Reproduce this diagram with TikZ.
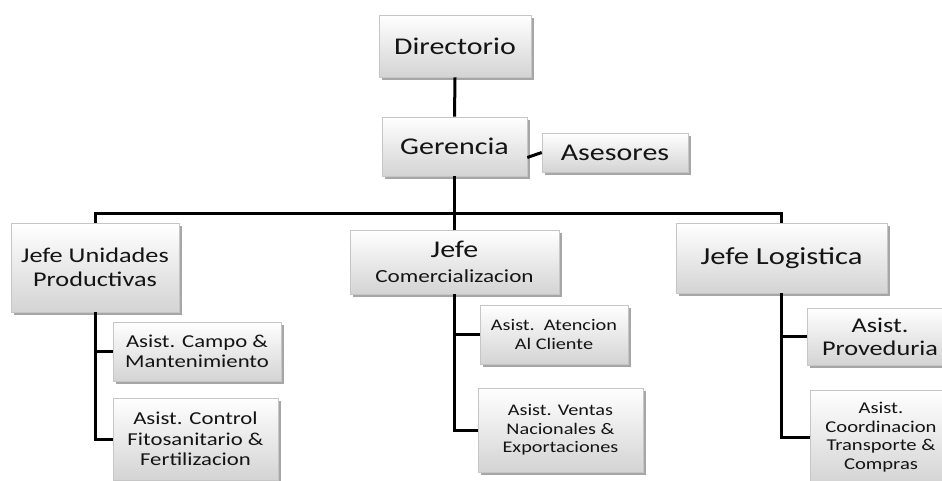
\documentclass[tikz,border=0pt]{standalone}
\usepackage{fontspec}
\setmainfont{Carlito}[FakeStretch=1.25]
\usetikzlibrary{shadows}
\tikzset{
  box/.style={draw=gray!45, line width=0.6pt, rectangle, top color=white, bottom color=gray!34,
    align=center, inner sep=0pt, text=black!92,
    drop shadow={shadow xshift=2.5pt, shadow yshift=-3pt, opacity=0.35, fill=black}},
  link/.style={draw=black, line width=3pt},
  fbig/.style={font=\fontsize{24}{28}\selectfont},
  fjefe/.style={font=\fontsize{21}{23.5}\selectfont},
  fmid/.style={font=\fontsize{18.2}{20.5}\selectfont},
  fsmall/.style={font=\fontsize{16.2}{18.5}\selectfont}
}
\begin{document}
\begin{tikzpicture}[x=1pt,y=-1pt]
\useasboundingbox (0,0) rectangle (942,480);
\clip (0,0) rectangle (942,480);
% nodes
\node[box,fbig,minimum width=152pt,minimum height=62pt] (dir) at (455,46) {Directorio};
\node[box,fbig,minimum width=145pt,minimum height=59pt] (ger) at (454.5,146.5) {Gerencia};
\node[box,fbig,minimum width=146pt,minimum height=39pt] (ase) at (615,152.5) {Asesores};
\node[box,fjefe,minimum width=168pt,minimum height=89pt] (jup) at (95,267.5) {Jefe Unidades\\Productivas};
\node[box,font=\fontsize{18.5}{25}\selectfont,minimum width=209pt,minimum height=64pt] (jco) at (454.5,262)
  {{\fontsize{24}{25}\selectfont Jefe}\\Comercializacion};
\node[box,font=\fontsize{24.5}{27}\selectfont,minimum width=211pt,minimum height=70pt] (jlo) at (781.5,258) {Jefe Logistica};
\node[box,fmid,minimum width=168pt,minimum height=59pt] (campo) at (197,351.5) {Asist. Campo \&\\Mantenimiento};
\node[box,fmid,minimum width=165pt,minimum height=82pt] (control) at (195.5,439) {Asist. Control\\Fitosanitario \&\\Fertilizacion};
\node[box,fsmall,minimum width=148pt,minimum height=59pt] (aten) at (554,334.5) {Asist.~~Atencion\\Al Cliente};
\node[box,fsmall,minimum width=165pt,minimum height=84pt] (ventas) at (560.5,430) {Asist. Ventas\\Nacionales \&\\Exportaciones};
\node[box,font=\fontsize{21}{23}\selectfont,minimum width=146pt,minimum height=57pt] (prov) at (880,336.5) {Asist.\\Proveduria};
\node[box,font=\fontsize{16.5}{18.5}\selectfont,minimum width=142pt,minimum height=94pt] (coord) at (881,437) {Asist.\\Coordinacion\\Transporte \&\\Compras};
\coordinate (bus) at (455,213);
% connectors
\draw[link] (dir.south) -- (ger.north);
\draw[link] (ger.south) -- (jco.north);
\draw[link] ([yshift=-11pt]ger.east) -- (ase.west);
\draw[link] (jup.north) |- (bus) -| (jlo.north);
\draw[link] (jup.south) |- (control.west);
\draw[link] (jup.south |- campo.west) -- (campo.west);
\draw[link] (jco.south) |- (ventas.west);
\draw[link] (jco.south |- aten.west) -- (aten.west);
\draw[link] (jlo.south) |- (coord.west);
\draw[link] (jlo.south |- prov.west) -- (prov.west);
\end{tikzpicture}
\end{document}
